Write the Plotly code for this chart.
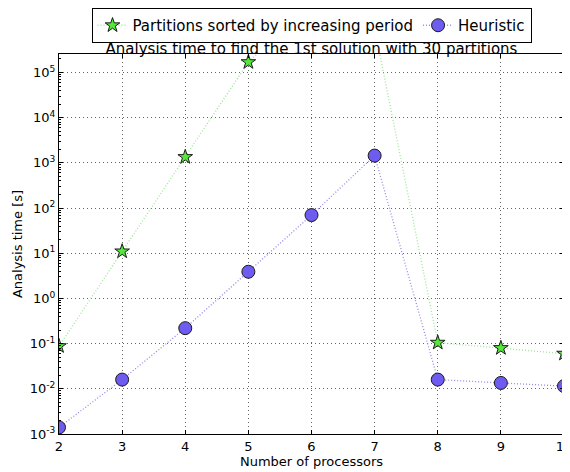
import plotly.graph_objects as go

processors = [2, 3, 4, 5, 6, 7, 8, 9, 10]
sorted_period = [0.088, 11, 1350, 1.7e5, 3.8e6, 9.4e5, 0.105, 0.08, 0.06]
heuristic = [0.0014, 0.016, 0.22, 3.9, 70, 1450, 0.016, 0.0135, 0.0115]

y_tickvals = [1e-3, 1e-2, 1e-1, 1e0, 1e1, 1e2, 1e3, 1e4, 1e5]
y_ticktext = ["10<sup>-3</sup>", "10<sup>-2</sup>", "10<sup>-1</sup>", "10<sup>0</sup>",
              "10<sup>1</sup>", "10<sup>2</sup>", "10<sup>3</sup>", "10<sup>4</sup>", "10<sup>5</sup>"]
minor_vals = [m * d for d in [1e-3, 1e-2, 1e-1, 1e0, 1e1, 1e2, 1e3, 1e4, 1e5] for m in range(2, 10)]

font = "DejaVu Sans"

fig = go.Figure()
fig.add_trace(go.Scatter(
    x=processors, y=sorted_period, mode="lines+markers",
    name="Partitions sorted by increasing period",
    line=dict(color="#9fe39a", dash="1px,2px", width=1.3),
    marker=dict(symbol="star", size=11, color="#55e83a",
                line=dict(color="#1a1a1a", width=1)),
))
fig.add_trace(go.Scatter(
    x=processors, y=heuristic, mode="lines+markers",
    name="Heuristic",
    line=dict(color="#938be6", dash="1px,2px", width=1.3),
    marker=dict(symbol="circle", size=13, color="#6e5cf0",
                line=dict(color="#1a1a1a", width=1)),
))

W, H = 562, 464  # page body has an 8px margin
fig.update_layout(
    width=W, height=H,
    margin=dict(l=51, r=6, t=46, b=38, autoexpand=False),
    paper_bgcolor="white", plot_bgcolor="white",
    font=dict(family=font, size=12, color="black"),
    title=dict(text="Analysis time to find the 1st solution with 30 partitions",
               x=0.5, xanchor="center", xref="paper",
               y=1 - 41 / H, yanchor="middle", yref="container",
               font=dict(family=font, size=15, color="black")),
    legend=dict(orientation="h", x=0.5, xanchor="center", y=1, yanchor="top",
                xref="paper", yref="container",
                bordercolor="black", borderwidth=1, bgcolor="rgba(255,255,255,0)",
                font=dict(family=font, size=15, color="black"),
                itemsizing="trace", tracegroupgap=0),
    showlegend=True,
)

fig.update_xaxes(
    range=[2, 10], dtick=1, tick0=2,
    showline=True, linecolor="black", linewidth=1, mirror="ticks",
    ticks="inside", ticklen=4, tickcolor="black",
    showgrid=True, gridcolor="#666666", griddash="1px,3px", gridwidth=1,
    zeroline=False, ticklabeloverflow="allow",
    tickfont=dict(family=font, size=13),
    title=dict(text="Number of processors", standoff=4, font=dict(family=font, size=13)),
)
fig.update_yaxes(
    type="log", range=[-3, 5.41],
    tickvals=y_tickvals, ticktext=y_ticktext,
    showline=True, linecolor="black", linewidth=1, mirror="ticks",
    ticks="inside", ticklen=4, tickcolor="black",
    minor=dict(tickmode="array", tickvals=minor_vals, ticks="inside", ticklen=2,
               tickcolor="black", showgrid=False),
    showgrid=True, gridcolor="#666666", griddash="1px,3px", gridwidth=1,
    zeroline=False,
    tickfont=dict(family=font, size=13),
    title=dict(text="Analysis time [s]", standoff=4, font=dict(family=font, size=13)),
)

fig.write_html("out.html")
